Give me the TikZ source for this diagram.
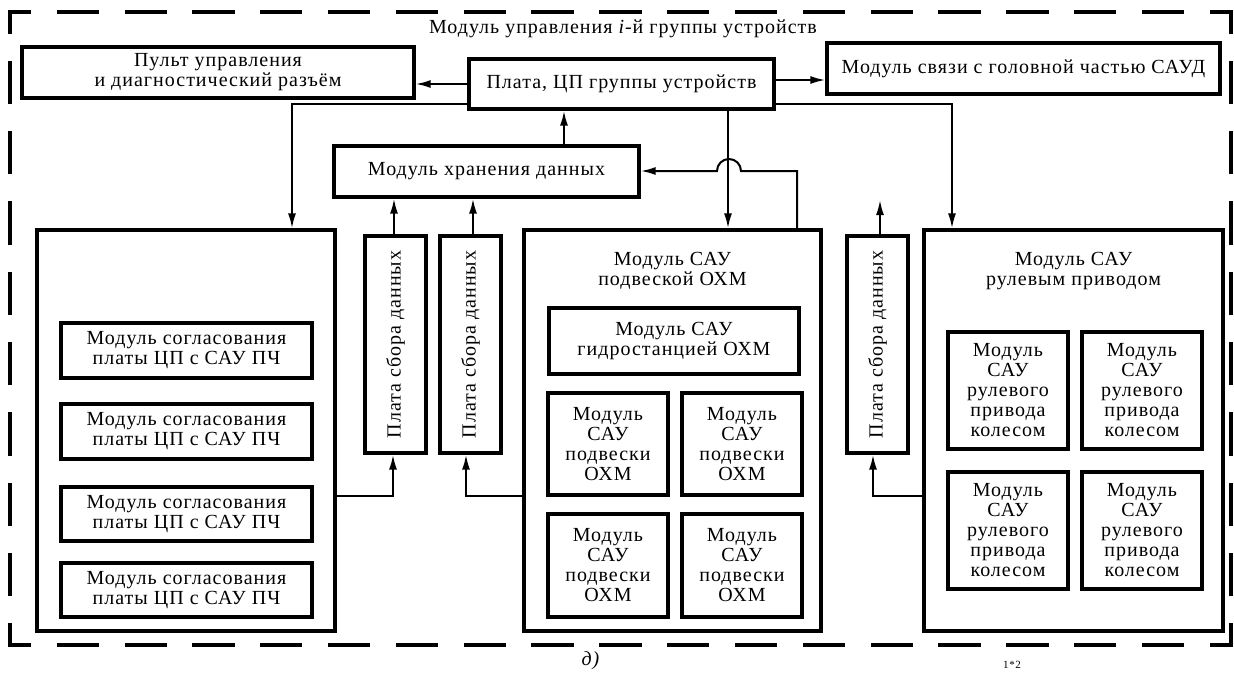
\documentclass[tikz,border=0pt]{standalone}
\usepackage{fontspec}
\setmainfont[LetterSpace=5]{Liberation Serif}
\usetikzlibrary{arrows.meta}
\newcommand\myfs{\fontsize{20}{20}\selectfont}
\begin{document}
\begin{tikzpicture}[x=1pt,y=-1pt,
  box/.style={draw, line width=3.3pt, inner sep=0pt, align=center, font=\myfs},
  txt/.style={inner sep=0pt, align=center, font=\myfs},
  arr/.style={line width=2pt, -{Latex[length=15pt,width=8pt]}},
  wire/.style={line width=2pt},
  frame/.style={line width=3.3pt, line cap=rect}]
\useasboundingbox (0,0) rectangle (1234,673);

% outer dashed frame
\draw[frame, dash pattern=on 39pt off 28.83pt, dash phase=19.5pt] (10,12) -- (1231,12);
\draw[frame, dash pattern=on 39pt off 28.83pt, dash phase=19.5pt] (10,645) -- (1231,645);
\draw[frame, dash pattern=on 40pt off 30.33pt, dash phase=20pt] (10,12) -- (10,645);
\draw[frame, dash pattern=on 40pt off 30.33pt, dash phase=20pt] (1231,12) -- (1231,645);

\node[txt] (title) at (623,29) {Модуль управления \textit{i}-й группы устройств};

% top row
\node[box, minimum width=392pt, minimum height=51pt] (pult) at (218,72.5) {Пульт управления\\и диагностический разъём};
\node[box, minimum width=305pt, minimum height=50pt] (cpu) at (621.5,84) {Плата, ЦП группы устройств};
\node[box, minimum width=393pt, minimum height=51pt] (link) at (1023.5,68.5) {Модуль связи с головной частью САУД};
\node[box, minimum width=305pt, minimum height=51pt] (store) at (486.5,171.5) {Модуль хранения данных};

% left big module
\node[box, minimum width=298pt, minimum height=401pt] (L) at (186,430.5) {};
\node[box, minimum width=251pt, minimum height=55pt] (L1) at (186.5,350.5) {Модуль согласования\\платы ЦП с САУ ПЧ};
\node[box, minimum width=251pt, minimum height=55pt] (L2) at (186.5,431.5) {Модуль согласования\\платы ЦП с САУ ПЧ};
\node[box, minimum width=251pt, minimum height=54pt] (L3) at (186.5,514) {Модуль согласования\\платы ЦП с САУ ПЧ};
\node[box, minimum width=251pt, minimum height=54pt] (L4) at (186.5,590) {Модуль согласования\\платы ЦП с САУ ПЧ};

% data acquisition boards
\node[box, minimum width=61pt, minimum height=217pt] (P1) at (395.5,344.5) {};
\node[box, minimum width=61pt, minimum height=217pt] (P2) at (470.5,344.5) {};
\node[box, minimum width=61pt, minimum height=217pt] (P3) at (877.5,344.5) {};
\node[txt, rotate=90] (P1t) at (P1.center) {Плата сбора данных};
\node[txt, rotate=90] (P2t) at (P2.center) {Плата сбора данных};
\node[txt, rotate=90] (P3t) at (P3.center) {Плата сбора данных};

% suspension module
\node[box, minimum width=297pt, minimum height=401pt] (M) at (672.5,430.5) {};
\node[txt] (Mt) at (672.5,271) {Модуль САУ\\подвеской ОХМ};
\node[box, minimum width=250pt, minimum height=66pt] (H) at (674,341) {Модуль САУ\\гидростанцией ОХМ};
\node[box, minimum width=120pt, minimum height=102pt] (S1) at (608,444) {Модуль\\САУ\\подвески\\ОХМ};
\node[box, minimum width=120pt, minimum height=102pt] (S2) at (742,444) {Модуль\\САУ\\подвески\\ОХМ};
\node[box, minimum width=120pt, minimum height=103pt] (S3) at (608,565.5) {Модуль\\САУ\\подвески\\ОХМ};
\node[box, minimum width=120pt, minimum height=103pt] (S4) at (742,565.5) {Модуль\\САУ\\подвески\\ОХМ};

% steering module
\node[box, minimum width=299pt, minimum height=401pt] (R) at (1073.5,430.5) {};
\node[txt] (Rt) at (1073.5,271) {Модуль САУ\\рулевым приводом};
\node[box, minimum width=120pt, minimum height=117pt] (R1) at (1008,390.5) {Модуль\\САУ\\рулевого\\привода\\колесом};
\node[box, minimum width=120pt, minimum height=117pt] (R2) at (1142,390.5) {Модуль\\САУ\\рулевого\\привода\\колесом};
\node[box, minimum width=120pt, minimum height=117pt] (R3) at (1008,530.5) {Модуль\\САУ\\рулевого\\привода\\колесом};
\node[box, minimum width=120pt, minimum height=117pt] (R4) at (1142,530.5) {Модуль\\САУ\\рулевого\\привода\\колесом};

% helper coordinates
\coordinate (y0) at (0,80);
\coordinate (b1) at (292,104);
\coordinate (b2) at (952,104);
\coordinate (x3) at (564,0);
\coordinate (x4) at (728,0);
\coordinate (b5) at (797,171);
\coordinate (j1) at (741,171);
\coordinate (x6) at (394,0);
\coordinate (x7) at (473,0);
\coordinate (f3) at (880,200);
\coordinate (b7) at (393,496);
\coordinate (b8) at (466,496);
\coordinate (b9) at (873,496);

% connectors
\draw[arr] (cpu.west) -- (pult.east |- cpu.west);
\draw[arr] (cpu.east |- y0) -- (link.west |- y0);
\draw[arr] (cpu.west |- b1) -- (b1) -- (L.north -| b1);
\draw[arr] (cpu.east |- b2) -- (b2) -- (R.north -| b2);
\draw[arr] (store.north -| x3) -- (cpu.south -| x3);
\draw[arr] (cpu.south -| x4) -- (M.north -| x4);
\draw[arr] (M.north -| b5) -- (b5) -- (j1) arc[start angle=0, end angle=180, radius=12pt] -- (store.east |- b5);
\draw[arr] (P1.north -| x6) -- (store.south -| x6);
\draw[arr] (P2.north -| x7) -- (store.south -| x7);
\draw[arr] (P3.north -| f3) -- (f3);
\draw[arr] (L.east |- b7) -- (b7) -- (P1.south -| b7);
\draw[arr] (M.west |- b8) -- (b8) -- (P2.south -| b8);
\draw[arr] (R.west |- b9) -- (b9) -- (P3.south -| b9);

% captions
\node[txt] (cap) at (591,661) {\textit{д)}};
\node[inner sep=0pt, anchor=north, font=\fontsize{11}{11}\selectfont] (pg) at (1012,661) {1*2};
\end{tikzpicture}
\end{document}
